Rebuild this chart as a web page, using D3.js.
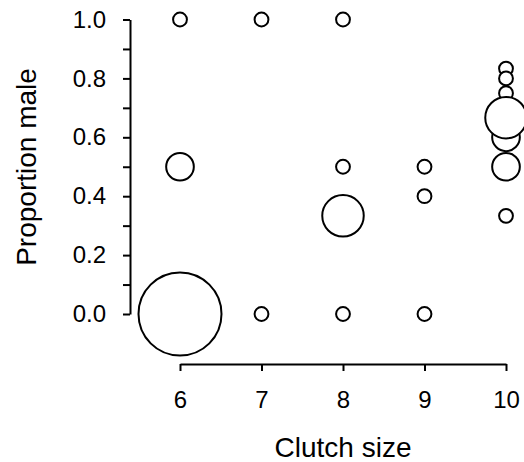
<!DOCTYPE html>
<html lang="en">
  <head>
    <meta charset="utf-8">
    <script src="https://d3js.org/d3.v7.min.js"></script>
    <style>
      body { margin: 0; background: #fff; }
      text { font-family: Arial, "Liberation Sans", sans-serif; fill: #000; }
    </style>
  </head>
  <body>
    <div id="chart"></div>
    <script>
      // data: clutch size, proportion male, number of clutches
      const clutchSize = [6, 6, 6, 7, 7, 8, 8, 8, 8, 9, 9, 9, 10, 10, 10, 10, 10, 10, 10];
      const propMale   = [1.0, 0.5, 0.0, 1.0, 0.0, 1.0, 0.5, 1/3, 0.0, 0.5, 0.4, 0.0,
                          5/6, 0.8, 0.75, 2/3, 0.6, 0.5, 1/3];
      const counts     = [1, 2, 6, 1, 1, 1, 1, 3, 1, 1, 1, 1, 1, 1, 1, 3, 2, 2, 1];
      const xTicks = [6, 7, 8, 9, 10];
      const yTicks = [0, 0.2, 0.4, 0.6, 0.8, 1.0];
      const yMinor = [0.1, 0.3, 0.5, 0.7, 0.9];

      const W = 524, H = 462;
      const svg = d3.select("#chart").append("svg")
        .attr("width", W).attr("height", H);

      const x = d3.scaleLinear().domain([6, 10]).range([180, 506]);
      const y = d3.scaleLinear().domain([0, 1]).range([314, 19.5]);
      const r = d3.scaleLinear().domain([0, 6]).range([0, 41.5]);

      // x axis
      const gx = svg.append("g")
        .attr("transform", "translate(0,364)")
        .call(d3.axisBottom(x).tickValues(xTicks).tickFormat(d3.format("d"))
          .tickSize(7).tickSizeOuter(0).tickPadding(20));
      gx.selectAll("path, line").attr("stroke", "#000").attr("stroke-width", 2);
      gx.selectAll("text").style("font-size", "24px");

      // y axis
      const gy = svg.append("g")
        .attr("transform", "translate(130,0)")
        .call(d3.axisLeft(y).tickValues(yTicks).tickFormat(d3.format(".1f"))
          .tickSize(7).tickSizeOuter(0).tickPadding(17));
      gy.selectAll("path, line").attr("stroke", "#000").attr("stroke-width", 2);
      gy.selectAll("text").style("font-size", "24px");

      const gyMinor = svg.append("g")
        .attr("transform", "translate(130,0)")
        .call(d3.axisLeft(y).tickValues(yMinor).tickFormat("").tickSize(7).tickSizeOuter(0));
      gyMinor.select("path").remove();
      gyMinor.selectAll("line").attr("stroke", "#000").attr("stroke-width", 2);

      // axis titles
      svg.append("text")
        .attr("x", 343).attr("y", 457)
        .attr("text-anchor", "middle")
        .style("font-size", "28px")
        .text("Clutch size");

      svg.append("text")
        .attr("transform", "translate(36,167) rotate(-90)")
        .attr("text-anchor", "middle")
        .style("font-size", "28px")
        .text("Proportion male");

      // bubbles, smaller drawn first
      const pts = clutchSize.map((c, i) => ({c: c, p: propMale[i], n: counts[i]}))
        .sort((a, b) => a.n - b.n);

      svg.append("g").selectAll("circle")
        .data(pts)
        .join("circle")
        .attr("cx", d => x(d.c))
        .attr("cy", d => y(d.p))
        .attr("r", d => r(d.n))
        .attr("fill", "#fff")
        .attr("stroke", "#000")
        .attr("stroke-width", 2);
    </script>
  </body>
</html>
